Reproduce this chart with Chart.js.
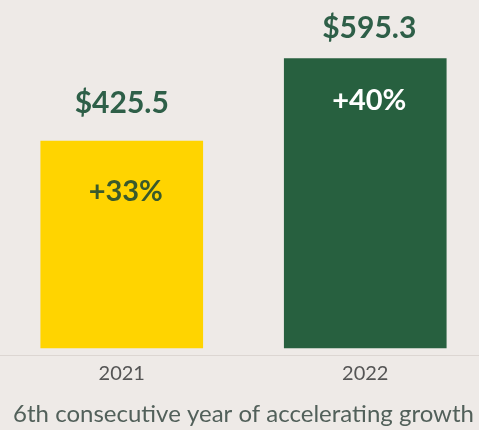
<!DOCTYPE html>
<html>
<head>
<meta charset="utf-8">
<script src="https://cdn.jsdelivr.net/npm/chart.js@4"></script>
<style>
  html, body { margin: 0; padding: 0; background: #EEEAE7; overflow: hidden; }
  #wrap { width: 487px; height: 430px; position: relative; }
</style>
</head>
<body>
<div id="wrap"><canvas id="c"></canvas></div>
<script>
// Revenue by year ($ billions) and year-over-year growth
const years = ['2021', '2022'];
const revenue = [425.5, 595.3];
const growth = ['+33%', '+40%'];
const footnote = '6th consecutive year of accelerating growth';

const barColors = ['#FFD400', '#27603F'];
const growthColors = ['#3A5A2C', '#FFFFFF'];

const labelsPlugin = {
  id: 'barLabels',
  afterDatasetsDraw(chart) {
    const ctx = chart.ctx;
    const meta = chart.getDatasetMeta(0);
    const valueLift = [38, 30];
    const growthDrop = [50, 42];
    const valueShift = [0, 4];
    meta.data.forEach((bar, i) => {
      ctx.save();
      ctx.textAlign = 'center';
      ctx.textBaseline = 'middle';
      ctx.font = 'bold 30px Lato';
      ctx.fillStyle = '#2E5F48';
      ctx.fillText('$' + revenue[i].toFixed(1), bar.x + valueShift[i], bar.y - valueLift[i]);
      ctx.font = 'bold 29px Lato';
      ctx.fillStyle = growthColors[i];
      ctx.fillText(growth[i], bar.x + 4, bar.y + growthDrop[i]);
      ctx.restore();
    });
  }
};

new Chart(document.getElementById('c'), {
  type: 'bar',
  data: {
    labels: years,
    datasets: [{
      data: revenue,
      backgroundColor: barColors,
      borderWidth: 0,
      barThickness: 162
    }]
  },
  options: {
    responsive: true,
    maintainAspectRatio: false,
    animation: false,
    layout: { padding: { top: 0, left: 0, right: 0, bottom: 1.6 } },
    plugins: {
      legend: { display: false },
      tooltip: { enabled: false },
      title: {
        display: true,
        position: 'bottom',
        text: footnote,
        color: '#52605A',
        font: { family: 'Lato', size: 24, weight: 'normal' },
        padding: { top: 6.6, bottom: 0 }
      }
    },
    scales: {
      x: {
        grid: { display: false, drawTicks: false },
        border: { display: true, color: '#DCD6D2', width: 1 },
        ticks: { color: '#555555', font: { family: 'Lato', size: 20 }, padding: 7 }
      },
      y: {
        display: false,
        min: -14.5,
        max: 716
      }
    }
  },
  plugins: [labelsPlugin]
});
</script>
</body>
</html>
